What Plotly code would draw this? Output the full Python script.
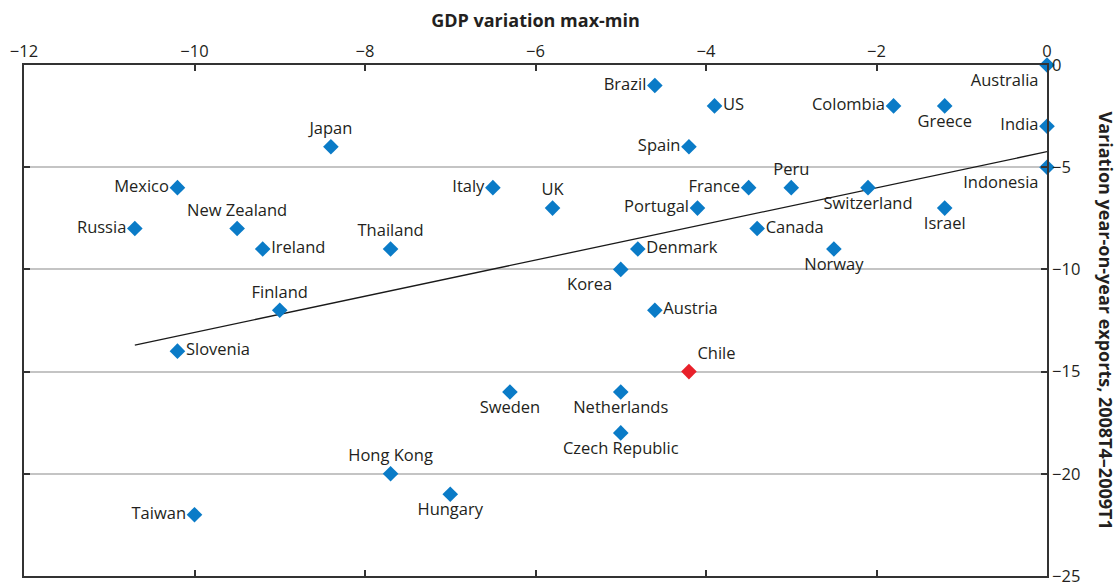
import plotly.graph_objects as go

# Countries: GDP variation (max-min) vs. year-on-year export variation
countries = [
    "Australia", "Brazil", "US", "Colombia", "Greece", "India", "Japan", "Spain",
    "Indonesia", "Mexico", "Italy", "France", "Peru", "Switzerland", "UK",
    "Portugal", "Israel", "Russia", "New Zealand", "Canada", "Ireland", "Thailand",
    "Denmark", "Norway", "Korea", "Finland", "Austria", "Slovenia", "Chile",
    "Sweden", "Netherlands", "Czech Republic", "Hong Kong", "Hungary", "Taiwan",
]
gdp_variation = [
    0.0, -4.6, -3.9, -1.8, -1.2, 0.0, -8.4, -4.2,
    0.0, -10.2, -6.5, -3.5, -3.0, -2.1, -5.8,
    -4.1, -1.2, -10.7, -9.5, -3.4, -9.2, -7.7,
    -4.8, -2.5, -5.0, -9.0, -4.6, -10.2, -4.2,
    -6.3, -5.0, -5.0, -7.7, -7.0, -10.0,
]
export_variation = [
    0, -1, -2, -2, -2, -3, -4, -4,
    -5, -6, -6, -6, -6, -6, -7,
    -7, -7, -8, -8, -8, -9, -9,
    -9, -9, -10, -12, -12, -14, -15,
    -16, -16, -18, -20, -21, -22,
]
label_side = [
    "bottom left", "middle left", "middle right", "middle left", "bottom center",
    "middle left", "top center", "middle left", "bottom left", "middle left",
    "middle left", "middle left", "top center", "bottom center", "top center",
    "middle left", "bottom center", "middle left", "top center", "middle right",
    "middle right", "top center", "middle right", "bottom center", "bottom left",
    "top center", "middle right", "middle right", "top right", "bottom center",
    "bottom center", "bottom center", "top center", "bottom center", "middle left",
]
highlight = "Chile"

# Fitted trend line endpoints
trend_x = [-10.7, 0.0]
trend_y = [-13.7, -4.24]

x_ticks = [-12, -10, -8, -6, -4, -2, 0]
y_ticks = [-25, -20, -15, -10, -5, 0]

BLUE = "#0a7bc7"
RED = "#e8202a"
TEXT = "#231f20"
FONT = "Open Sans, Lato, sans-serif"

colors = [RED if c == highlight else BLUE for c in countries]

fig = go.Figure()
fig.add_trace(go.Scatter(
    x=trend_x, y=trend_y, mode="lines",
    line=dict(color="#1a1a1a", width=1.3),
    hoverinfo="skip", showlegend=False,
))
fig.add_trace(go.Scatter(
    x=gdp_variation, y=export_variation, mode="markers+text",
    text=countries, textposition=label_side,
    textfont=dict(family=FONT, size=16.5, color=TEXT),
    marker=dict(symbol="diamond", size=12, color=colors, line=dict(width=0)),
    cliponaxis=False, showlegend=False,
))

fig.update_layout(
    width=1117, height=582,
    margin=dict(l=24, r=70, t=65, b=6),
    plot_bgcolor="white", paper_bgcolor="white",
    font=dict(family=FONT, size=16.5, color=TEXT),
    xaxis=dict(
        side="top", range=[-12, 0], tickvals=x_ticks, automargin=False,
        ticks="inside", ticklen=6, tickcolor="#333", tickwidth=1.5,
        showline=True, linecolor="#333", linewidth=1.5, mirror="allticks",
        showgrid=False, zeroline=False,
        tickfont=dict(family=FONT, size=16.5, color=TEXT),
        title=dict(text="<b>GDP variation max-min</b>",
                   font=dict(family=FONT, size=18, color=TEXT), standoff=6),
    ),
    yaxis=dict(
        side="right", range=[-25, 0], tickvals=y_ticks, automargin=False,
        ticks="inside", ticklen=6, tickcolor="#333", tickwidth=1.5,
        showline=True, linecolor="#333", linewidth=1.5, mirror="allticks",
        showgrid=True, gridcolor="#c4c4c4", gridwidth=1.5, zeroline=False,
        ticklabeloverflow="allow",
        tickfont=dict(family=FONT, size=16.5, color=TEXT),
    ),
    annotations=[dict(
        text="<b>Variation year-on-year exports, 2008T4–2009T1</b>",
        xref="paper", yref="paper", x=1.0, y=0.5,
        xanchor="center", yanchor="middle", xshift=59,
        textangle=90, showarrow=False,
        font=dict(family=FONT, size=18, color=TEXT),
    )],
)

fig.write_html("out.html")
